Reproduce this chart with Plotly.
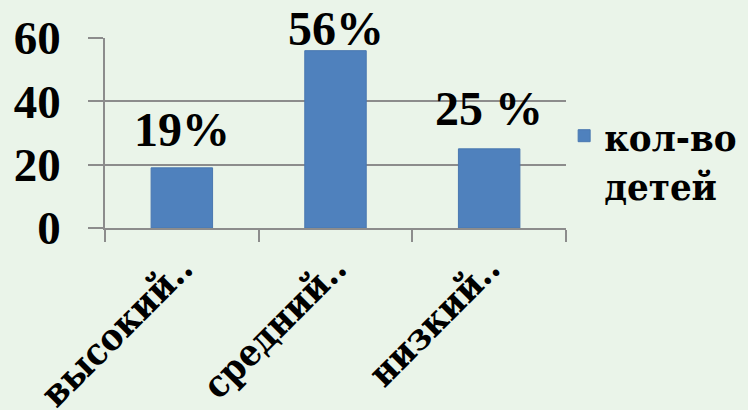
import plotly.graph_objects as go

categories = ["высокий..", "средний..", "низкий.."]
values = [19, 56, 25]
value_labels = ["19%", "56%", "25 %"]
series_name = "кол-во<br>детей"
y_ticks = [0, 20, 40, 60]

# vertical nudges (px) of the value labels, as placed in the original
label_yshift = [10, -6, 12]

NUM_FONT = "Liberation Serif"
CYR_FONT = "DejaVu Serif Condensed"
BG = "#EAF4E9"
BAR = "#4F81BD"
GRID = "#8C8C8C"

fig = go.Figure()
fig.add_trace(go.Bar(
    x=categories, y=values, name=series_name,
    marker=dict(color=BAR, line=dict(color="#4A78B0", width=1)),
    width=0.4, showlegend=True,
))

for c, v, t, s in zip(categories, values, value_labels, label_yshift):
    fig.add_annotation(x=c, y=v, text="<b>" + t + "</b>", showarrow=False, yanchor="bottom",
                       yshift=s, font=dict(family=NUM_FONT, size=48, color="black"))

fig.update_layout(
    width=748, height=410,
    paper_bgcolor=BG, plot_bgcolor=BG,
    margin=dict(l=105, r=182, t=38, b=182, autoexpand=False),
    showlegend=True,
    legend=dict(x=0.996, y=0.65, xanchor="left", yanchor="top", valign="top",
                font=dict(family=CYR_FONT, size=38, color="black", weight="bold"),
                bgcolor="rgba(0,0,0,0)", itemwidth=30),
    bargap=0.6,
)
fig.update_yaxes(range=[0, 60], tickvals=y_ticks, showgrid=True, gridcolor=GRID, gridwidth=1.5,
                 showline=True, linecolor=GRID, linewidth=1.5, automargin=False,
                 ticks="outside", ticklen=15, tickcolor=GRID, tickwidth=1.5,
                 ticklabelstandoff=18, zeroline=False,
                 tickfont=dict(family=NUM_FONT, size=47, color="black", weight="bold"))
fig.update_xaxes(showline=True, linecolor=GRID, linewidth=1.5, ticks="outside", tickson="boundaries",
                 ticklen=12, tickcolor=GRID, tickwidth=1.5, tickangle=-45, ticklabelstandoff=2,
                 automargin=False,
                 tickfont=dict(family=CYR_FONT, size=37, color="black", weight="bold"))

fig.write_html("out.html", config={"displayModeBar": False},
               post_script="document.body.style.margin='0';")
